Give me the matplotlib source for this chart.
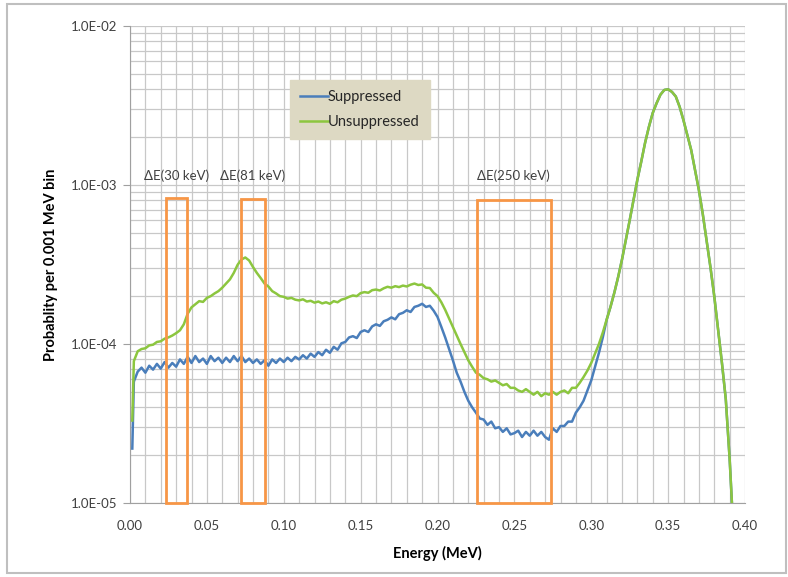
import numpy as np
import matplotlib
matplotlib.use("Agg")
import matplotlib.pyplot as plt
from matplotlib.patches import Rectangle
from matplotlib.ticker import FixedLocator, FuncFormatter, LogLocator, NullFormatter

plt.rcParams['font.family'] = ['Lato', 'DejaVu Sans']

# ---------------- data ----------------
# energy grid (MeV) of the noisy low-energy part
energy_low = np.concatenate([[0.0015], np.arange(1, 125) * 0.0025])

# Suppressed, x1e-5
suppressed_low = [
    2.2,
    5.8, 6.7, 7.1, 6.6, 7.3, 6.9, 7.5, 7.0, 7.7, 7.1,
    7.6, 7.2, 8.0, 7.5, 8.3, 7.6, 8.4, 7.7, 8.1, 7.5,
    8.4, 7.8, 8.2, 7.6, 8.2, 7.7, 8.4, 7.8, 8.4, 7.7,
    8.1, 7.6, 8.0, 7.5, 7.9, 7.3, 8.0, 7.6, 8.1, 7.7,
    8.2, 7.8, 8.3, 8.0, 8.5, 8.1, 8.7, 8.3, 8.9, 8.5,
    9.2, 8.8, 9.6, 9.2, 10.1, 10.3, 11.0, 11.2, 10.9, 11.9,
    12.2, 11.9, 12.9, 13.3, 13.0, 13.9, 14.2, 14.7, 14.3, 15.4,
    15.7, 16.3, 15.9, 17.1, 17.4, 17.9, 17.1, 17.4, 16.2, 14.8,
    12.8, 11.0, 9.3, 7.9, 6.6, 5.8, 5.0, 4.4, 4.0, 3.7,
    3.4, 3.35, 3.1, 3.25, 2.95, 3.0, 2.8, 2.95, 2.7, 2.75,
    2.85, 2.6, 2.8, 2.65, 2.85, 2.65, 2.8, 2.6, 2.5, 2.95,
    2.8, 3.05, 3.05, 3.25, 3.25, 3.7, 4.0, 4.4, 5.1, 5.9,
    7.2, 8.8, 11.0, 14.2,
]

# Unsuppressed, x1e-5
unsuppressed_low = [
    3.3,
    7.8, 9.0, 9.3, 9.4, 9.8, 9.9, 10.3, 10.4, 10.8, 11.0,
    11.3, 11.7, 12.2, 13.3, 15.5, 17.0, 17.8, 18.6, 18.4, 19.5,
    20.0, 20.8, 21.5, 22.6, 24.0, 25.5, 28.0, 31.5, 34.0, 35.0,
    33.5, 30.5, 28.0, 26.0, 24.0, 23.0, 21.5, 20.8, 20.0, 19.8,
    19.3, 19.5, 19.0, 18.8, 19.1, 18.5, 18.7, 18.2, 18.5, 18.0,
    18.3, 17.9, 18.6, 18.3, 19.0, 19.3, 19.8, 20.2, 20.0, 20.9,
    21.2, 21.0, 21.8, 22.0, 21.7, 22.4, 22.9, 22.6, 23.1, 22.8,
    23.3, 23.0, 23.6, 24.0, 23.5, 23.7, 22.6, 22.5, 21.0, 20.0,
    18.3, 16.4, 14.5, 12.8, 11.3, 10.0, 8.9, 7.9, 7.2, 6.6,
    6.4, 6.1, 6.0, 5.8, 5.9, 5.7, 5.5, 5.6, 5.3, 5.3,
    5.1, 5.0, 5.2, 5.0, 4.8, 5.0, 4.7, 4.9, 4.8, 5.0,
    4.8, 5.0, 5.1, 4.9, 5.3, 5.3, 5.7, 6.2, 6.8, 7.6,
    8.7, 10.0, 11.8, 14.2,
]

# shared high-energy peak (both series coincide), x1e-5
energy_peak = [0.3125, 0.315, 0.3175, 0.320, 0.3225, 0.325, 0.3275, 0.330,
               0.3325, 0.335, 0.3375, 0.340, 0.3425, 0.345, 0.3475, 0.350,
               0.3525, 0.355, 0.3575, 0.360, 0.3625, 0.365, 0.3675, 0.370,
               0.3725, 0.375, 0.3775, 0.380, 0.3825, 0.385, 0.3875, 0.390, 0.3915]
peak_values = [17.1, 21, 26.4, 34, 45, 60, 80.5, 108,
               140, 184, 232, 284, 327, 370, 396, 400,
               385, 360, 310, 255, 206, 166, 124, 93,
               66, 45, 30.5, 20, 12.3, 7.6, 4.5, 1.9, 1.0]

# analysis windows
window_labels = ["ΔE(30 keV)", "ΔE(81 keV)", "ΔE(250 keV)"]
window_lo = [0.0234, 0.0720, 0.2259]
window_hi = [0.0373, 0.0876, 0.2736]
window_top = [8.3e-4, 8.2e-4, 8.05e-4]
window_label_x = [0.0304, 0.0798, 0.2491]

series_names = ["Suppressed", "Unsuppressed"]
x_ticks = [0.00, 0.05, 0.10, 0.15, 0.20, 0.25, 0.30, 0.35, 0.40]
y_ticks = [1e-5, 1e-4, 1e-3, 1e-2]

# ---------------- plot ----------------
W, H = 788, 577
fig = plt.figure(figsize=(W / 100, H / 100), dpi=100)
ax = fig.add_axes([130 / W, 1 - 503 / H, 615 / W, 477 / H])

e_all = np.concatenate([energy_low, energy_peak])
sup = np.concatenate([suppressed_low, peak_values]) * 1e-5
uns = np.concatenate([unsuppressed_low, peak_values]) * 1e-5

ax.plot(e_all, sup, color="#4A7EBB", lw=1.8, label=series_names[0], zorder=3)
ax.plot(e_all, uns, color="#8CC63F", lw=1.8, label=series_names[1], zorder=4)

ax.set_yscale("log")
ax.set_xlim(0, 0.40)
ax.set_ylim(1e-5, 1e-2)

ax.xaxis.set_major_locator(FixedLocator(x_ticks))
ax.xaxis.set_minor_locator(FixedLocator(np.arange(0, 41) * 0.01))
ax.xaxis.set_major_formatter(FuncFormatter(lambda v, p: f"{v:.2f}"))
ax.yaxis.set_major_locator(FixedLocator(y_ticks))
ax.yaxis.set_minor_locator(LogLocator(base=10, subs=np.arange(2, 10)))
ax.yaxis.set_minor_formatter(NullFormatter())
ax.yaxis.set_major_formatter(FuncFormatter(lambda v, p: f"{v:.1E}"))

ax.grid(True, which="both", color="#C8C8C8", lw=0.9)
ax.set_axisbelow(True)
for s in ["top", "right"]:
    ax.spines[s].set_visible(False)
for s in ["left", "bottom"]:
    ax.spines[s].set_color("#A0A0A0")
ax.tick_params(axis="x", which="both", length=0, pad=12, labelsize=9.5, labelcolor="#404040")
ax.tick_params(axis="y", which="major", length=5, color="#A0A0A0", pad=4, labelsize=9.5, labelcolor="#404040")
ax.tick_params(axis="y", which="minor", length=0)

ax.set_xlabel("Energy (MeV)", fontsize=10.5, fontweight="bold", labelpad=10)
ax.set_ylabel("Probablity per 0.001 MeV bin", fontsize=10.5, fontweight="bold", labelpad=9)

for lab, lo, hi, top, lx in zip(window_labels, window_lo, window_hi, window_top, window_label_x):
    ax.add_patch(Rectangle((lo, 1e-5), hi - lo, top - 1e-5, fill=False,
                           edgecolor="#F79646", lw=2.0, zorder=5, clip_on=False))
    ax.text(lx, 1.15e-3, lab, ha="center", va="center", fontsize=9.5, color="#404040")

leg = ax.legend(loc="upper left", bbox_to_anchor=(290 / W, 1 - 80 / H),
                bbox_transform=fig.transFigure, frameon=True, fancybox=False,
                facecolor="#DDD9C3", edgecolor="#DDD9C3", framealpha=1,
                fontsize=10.5, handlelength=1.9, handletextpad=0.0,
                labelspacing=0.75, borderpad=0.7, borderaxespad=0)
for t in leg.get_texts():
    t.set_color("#262626")

# outer chart border
fig.patches.append(Rectangle((7 / W, 4 / H), 779 / W, 569 / H, transform=fig.transFigure,
                             fill=False, edgecolor="#BFBFBF", lw=1.5))

fig.savefig("out.png", dpi=100)
